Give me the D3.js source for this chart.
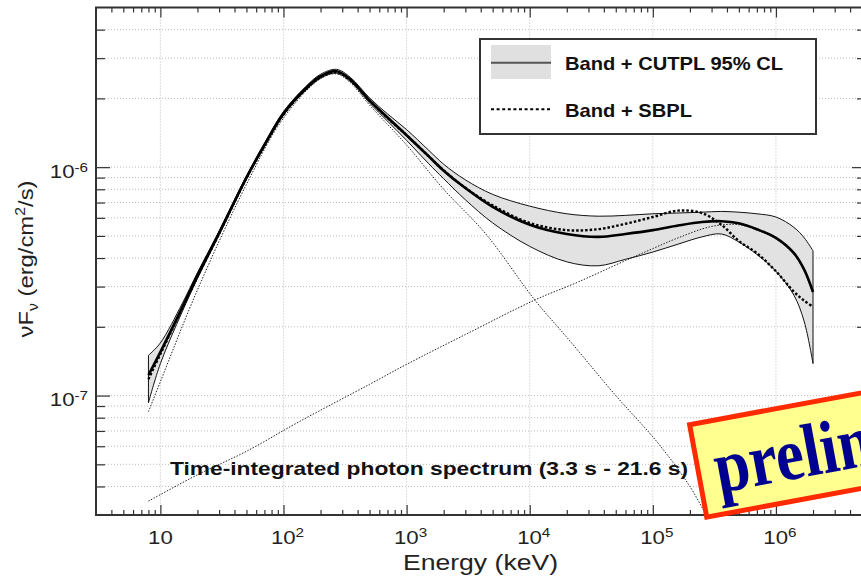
<!DOCTYPE html>
<html>
<head>
<meta charset="utf-8">
<script src="https://cdn.jsdelivr.net/npm/d3@7"></script>
<style>
  body { margin: 0; background: #fff; }
  svg { display: block; font-family: "Liberation Sans", Arial, sans-serif; }
</style>
</head>
<body>
<div id="chart"></div>
<script>
// Energy grid (keV) shared by the fitted curves
var energy  = [8, 10, 15, 20, 30, 50, 70, 100, 150, 200, 270, 350, 500, 700, 1000, 1500, 2000, 3000, 5000,
               1e4, 2e4, 3.6e4, 6e4, 1e5, 1.6e5, 2.5e5, 3.6e5, 5e5, 7e5, 1e6, 1.4e6, 1.7e6, 2e6];
// Band + CUTPL best fit (erg/cm2/s)
var bestFit = [1.23e-7, 1.55e-7, 2.42e-7, 3.35e-7, 5.15e-7, 9.0e-7, 1.25e-6, 1.72e-6, 2.2e-6, 2.5e-6, 2.63e-6, 2.42e-6, 1.96e-6, 1.65e-6, 1.38e-6, 1.12e-6, 9.65e-7, 8.1e-7, 6.7e-7,
               5.6e-7, 5.1e-7, 4.95e-7, 5.1e-7, 5.3e-7, 5.55e-7, 5.75e-7, 5.8e-7, 5.68e-7, 5.35e-7, 4.9e-7, 4.2e-7, 3.55e-7, 2.84e-7];
// 95% CL contour
var clUpper = [1.5e-7, 1.7e-7, 2.52e-7, 3.45e-7, 5.25e-7, 9.15e-7, 1.27e-6, 1.75e-6, 2.24e-6, 2.55e-6, 2.68e-6, 2.47e-6, 2.01e-6, 1.71e-6, 1.46e-6, 1.19e-6, 1.03e-6, 8.8e-7, 7.6e-7,
               6.75e-7, 6.25e-7, 6.1e-7, 6.15e-7, 6.25e-7, 6.3e-7, 6.35e-7, 6.4e-7, 6.35e-7, 6.25e-7, 6.05e-7, 5.45e-7, 4.9e-7, 4.3e-7];
var clLower = [9.3e-8, 1.38e-7, 2.32e-7, 3.25e-7, 5.05e-7, 8.85e-7, 1.23e-6, 1.69e-6, 2.16e-6, 2.45e-6, 2.58e-6, 2.37e-6, 1.91e-6, 1.59e-6, 1.31e-6, 1.04e-6, 8.9e-7, 7.2e-7, 5.7e-7,
               4.5e-7, 3.85e-7, 3.7e-7, 3.95e-7, 4.25e-7, 4.6e-7, 4.95e-7, 5.1e-7, 4.7e-7, 4.15e-7, 3.5e-7, 2.75e-7, 2.1e-7, 1.38e-7];
// Band + SBPL best fit
var sbpl    = [1.18e-7, 1.52e-7, 2.4e-7, 3.32e-7, 5.12e-7, 8.95e-7, 1.24e-6, 1.7e-6, 2.18e-6, 2.48e-6, 2.6e-6, 2.4e-6, 1.96e-6, 1.64e-6, 1.38e-6, 1.12e-6, 9.68e-7, 8.12e-7, 6.8e-7,
               5.7e-7, 5.3e-7, 5.35e-7, 5.65e-7, 6.05e-7, 6.45e-7, 6.3e-7, 5.6e-7, 4.75e-7, 4.2e-7, 3.5e-7, 2.85e-7, 2.6e-7, 2.45e-7];
// Band component alone
var bandE = [8, 10, 20, 50, 100, 200, 270, 350, 500, 1000, 2000, 4400, 1.1e4, 2e4, 5e4, 1.1e5, 2e5, 3e5];
var bandF = [8.5e-8, 1.15e-7, 2.9e-7, 8.4e-7, 1.64e-6, 2.44e-6, 2.56e-6, 2.34e-6, 1.87e-6, 1.25e-6, 8.0e-7, 5.1e-7, 2.62e-7, 1.8e-7, 1.0e-7, 6.2e-8, 4.0e-8, 2.7e-8];
// CUTPL component alone
var cutE = [8, 20, 50, 135, 500, 1000, 3000, 1.1e4, 2.5e4, 6e4, 1e5, 1.6e5, 3e5, 5e5, 7e5, 1e6, 1.4e6, 1.7e6, 2e6];
var cutF = [3.45e-8, 4.5e-8, 5.7e-8, 7.7e-8, 1.12e-7, 1.37e-7, 1.85e-7, 2.62e-7, 3.15e-7, 3.9e-7, 4.4e-7, 4.9e-7, 5.5e-7, 5.6e-7, 5.3e-7, 4.85e-7, 4.15e-7, 3.5e-7, 2.8e-7];

// Tick labels
var xMajor = [10, 1e2, 1e3, 1e4, 1e5, 1e6];
var xExp   = ["", "2", "3", "4", "5", "6"];
var yMajor = [1e-7, 1e-6];
var yExp   = ["-7", "-6"];
var legendLabels = ["Band + CUTPL 95% CL", "Band + SBPL"];
var titleText = "Time-integrated photon spectrum (3.3 s - 21.6 s)";

var svgWidth = 861, svgHeight = 576;
var plot = { left: 96, top: 7.5, right: 862, bottom: 515 };
var sx = 1.17; // the original slide is stretched horizontally

var svg = d3.select("#chart").append("svg")
    .attr("width", svgWidth)
    .attr("height", svgHeight);

var x = d3.scaleLog().domain([3, 5e6]).range([plot.left, plot.right]);
var y = d3.scaleLog().domain([3e-8, 5e-6]).range([plot.bottom, plot.top]);

// minor tick values
var xMinor = [];
for (var p = 0; p <= 6; p++) {
    for (var m = 2; m <= 9; m++) {
        var v = m * Math.pow(10, p);
        if (v > 3 && v < 5e6 && xMajor.indexOf(v) < 0) xMinor.push(v);
    }
}
var yMinor = [];
for (var q = -8; q <= -6; q++) {
    for (var k = 2; k <= 9; k++) {
        var w = k * Math.pow(10, q);
        if (w > 3.01e-8 && w < 4.99e-6) yMinor.push(w);
    }
}

// Grid
var grid = svg.append("g").attr("stroke", "#bcbcbc").attr("stroke-width", 1).attr("stroke-dasharray", "1,2");
grid.selectAll(".gy").data(yMinor.concat(yMajor)).enter().append("line")
    .attr("x1", plot.left).attr("x2", plot.right)
    .attr("y1", d => y(d)).attr("y2", d => y(d));
grid.selectAll(".gx").data(xMajor).enter().append("line")
    .attr("y1", plot.top).attr("y2", plot.bottom)
    .attr("x1", d => x(d)).attr("x2", d => x(d));

// Clip for curves
svg.append("clipPath").attr("id", "clip").append("rect")
    .attr("x", plot.left).attr("y", plot.top)
    .attr("width", plot.right - plot.left).attr("height", plot.bottom - plot.top);
var chartGroup = svg.append("g").attr("clip-path", "url(#clip)");

var band = energy.map((e, i) => ({ e: e, lo: clLower[i], hi: clUpper[i] }));
var smooth = d3.curveCatmullRom.alpha(0.5);
var area = d3.area()
    .x(d => x(d.e)).y0(d => y(d.lo)).y1(d => y(d.hi))
    .curve(smooth);
var line = d3.line()
    .x(d => x(d[0])).y(d => y(d[1]))
    .curve(smooth);

chartGroup.append("path").datum(band)
    .attr("d", area)
    .attr("fill", "#e2e2e2")
    .attr("stroke", "#111")
    .attr("stroke-width", 1);

chartGroup.append("path").datum(d3.zip(bandE, bandF))
    .attr("d", line).attr("fill", "none")
    .attr("stroke", "#222").attr("stroke-width", 1).attr("stroke-dasharray", "1.5,1.5");
chartGroup.append("path").datum(d3.zip(cutE, cutF))
    .attr("d", line).attr("fill", "none")
    .attr("stroke", "#222").attr("stroke-width", 1).attr("stroke-dasharray", "1.5,1.5");

chartGroup.append("path").datum(d3.zip(energy, sbpl))
    .attr("d", line).attr("fill", "none")
    .attr("stroke", "#000").attr("stroke-width", 2.4).attr("stroke-dasharray", "2.5,2");
chartGroup.append("path").datum(d3.zip(energy, bestFit))
    .attr("d", line).attr("fill", "none")
    .attr("stroke", "#000").attr("stroke-width", 2.6);

// Axes (ticks pointing inward)
function ticks(axis, vals, size, tr) {
    var g = svg.append("g").attr("transform", tr)
        .call(axis.tickValues(vals).tickSize(-size).tickFormat(""));
    g.select(".domain").remove();
    g.selectAll("line").attr("stroke", "#333").attr("stroke-width", 1.2);
}
ticks(d3.axisBottom(x), xMinor, 5, `translate(0,${plot.bottom})`);
ticks(d3.axisBottom(x), xMajor, 10, `translate(0,${plot.bottom})`);
ticks(d3.axisTop(x), xMinor, 5, `translate(0,${plot.top})`);
ticks(d3.axisTop(x), xMajor, 10, `translate(0,${plot.top})`);
ticks(d3.axisLeft(y), yMinor, 9, `translate(${plot.left},0)`);
ticks(d3.axisLeft(y), yMajor, 14, `translate(${plot.left},0)`);
ticks(d3.axisRight(y), yMinor, 5, `translate(${plot.right},0)`);
ticks(d3.axisRight(y), yMajor, 10, `translate(${plot.right},0)`);

// Frame
svg.append("path")
    .attr("d", `M${plot.right},${plot.top}H${plot.left}V${plot.bottom}H${plot.right}`)
    .attr("fill", "none").attr("stroke", "#333").attr("stroke-width", 2);

// Tick labels
xMajor.forEach(function (v, i) {
    var t = svg.append("text")
        .attr("transform", `translate(${x(v) + (xExp[i] ? 4 : 0)},544) scale(${sx},1)`)
        .attr("text-anchor", "middle").attr("font-size", 19).attr("fill", "#222");
    t.append("tspan").text("10");
    if (xExp[i]) t.append("tspan").attr("font-size", 13).attr("dy", -7).text(xExp[i]);
});
yMajor.forEach(function (v, i) {
    var t = svg.append("text")
        .attr("transform", `translate(88,${y(v) + 10.5}) scale(${sx},1)`)
        .attr("text-anchor", "end").attr("font-size", 19).attr("fill", "#222");
    t.append("tspan").text("10");
    t.append("tspan").attr("font-size", 13).attr("dy", -6).text(yExp[i]);
});

// Axis labels
svg.append("text")
    .attr("x", 403).attr("y", 570)
    .attr("font-size", 22).attr("fill", "#222")
    .attr("textLength", 155).attr("lengthAdjust", "spacingAndGlyphs")
    .text("Energy (keV)");

var yl = svg.append("text")
    .attr("transform", "translate(33,259) rotate(-90)")
    .attr("text-anchor", "middle").attr("font-size", 21).attr("fill", "#222")
    .attr("textLength", 157).attr("lengthAdjust", "spacingAndGlyphs");
yl.append("tspan").text("νF");
yl.append("tspan").attr("font-size", 14).attr("dy", 5).text("ν");
yl.append("tspan").attr("dy", -5).text(" (erg/cm");
yl.append("tspan").attr("font-size", 14).attr("dy", -8).text("2");
yl.append("tspan").attr("dy", 8).text("/s)");

// Title inside the plot
svg.append("text")
    .attr("x", 170).attr("y", 475)
    .attr("font-size", 18.5).attr("font-weight", "bold").attr("fill", "#111")
    .attr("textLength", 518).attr("lengthAdjust", "spacingAndGlyphs")
    .text(titleText);

// Legend
var legend = svg.append("g");
legend.append("rect")
    .attr("x", 480).attr("y", 39).attr("width", 336).attr("height", 95)
    .attr("fill", "#fff").attr("stroke", "#333").attr("stroke-width", 2);
legend.append("rect")
    .attr("x", 491).attr("y", 45).attr("width", 60).attr("height", 34)
    .attr("fill", "#e0e0e0");
legend.append("line")
    .attr("x1", 491).attr("x2", 551).attr("y1", 62.7).attr("y2", 62.7)
    .attr("stroke", "#555").attr("stroke-width", 2);
legend.append("line")
    .attr("x1", 491).attr("x2", 550).attr("y1", 109.3).attr("y2", 109.3)
    .attr("stroke", "#000").attr("stroke-width", 2).attr("stroke-dasharray", "3,2.6");
legend.selectAll(".lt").data(legendLabels).enter().append("text")
    .attr("x", 565).attr("y", (d, i) => i ? 117.3 : 70)
    .attr("font-size", 18.5).attr("font-weight", "bold").attr("fill", "#111")
    .attr("textLength", (d, i) => i ? 127 : 218).attr("lengthAdjust", "spacingAndGlyphs")
    .text(d => d);

// "preliminary" stamp (runs off the right edge, as in the original)
var stamp = svg.append("g").attr("transform", "translate(686.7,422.7) rotate(-10.5)");
stamp.append("rect")
    .attr("x", 2.5).attr("y", 2.5).attr("width", 420).attr("height", 94)
    .attr("fill", "#ffff90").attr("stroke", "#ff2a00").attr("stroke-width", 5);
stamp.append("text")
    .attr("transform", "translate(19,75) scale(0.84,1)")
    .attr("font-family", "'Liberation Serif', 'Times New Roman', serif")
    .attr("font-weight", "bold").attr("font-size", 75).attr("fill", "#000090")
    .text("preliminary");
</script>
</body>
</html>
